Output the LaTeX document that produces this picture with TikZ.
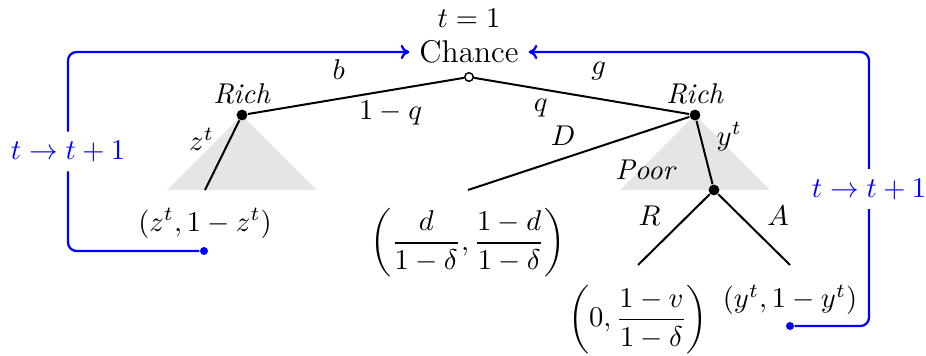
\documentclass[tikz,border=0pt]{standalone}
\usetikzlibrary{positioning,arrows.meta}
\tikzset{
  edge/.style={line width=0.7pt},
  decnode/.style={circle, fill=black, inner sep=0pt, minimum size=3.8pt},
  chancenode/.style={circle, draw, fill=white, inner sep=0pt, minimum size=3pt, line width=0.5pt},
  loopdot/.style={circle, fill=blue, inner sep=0pt, minimum size=2.8pt},
  loopline/.style={blue, line width=0.8pt, rounded corners=3pt, -{To[length=3pt,width=5pt]}},
  looplabel/.style={fill=white, text=blue},
}
\begin{document}
\begin{tikzpicture}[x=0.35pt, y=-0.35pt]
    \useasboundingbox (0,0) rectangle (926,355);
    % Bereiche der Zustaende
    \fill[gray!20] (242,115) -- ++(-75,75) -- ++(150,0) -- cycle;
    \fill[gray!20] (695,115) -- ++(-75,75) -- ++(150,0) -- cycle;
    % Knoten
    \node (chance) at (469,52) {\fontsize{11pt}{13pt}\selectfont Chance};
    \node (time) at (469,18) {$t=1$};
    \node[chancenode] (root) at (469,77) {};
    \node[decnode, label={[label distance=-2pt]above:\textit{Rich}}] (richL) at (242,115) {};
    \node[decnode, label={[label distance=-2pt]above:\textit{Rich}}] (richR) at (695,115) {};
    \node[decnode] (poor) at (714,190) {};
    \node at (646,170) {\textit{Poor}};
    \coordinate (endL) at (205,190);
    \coordinate (endD) at (468,190);
    \coordinate (endR) at (638,265);
    \coordinate (endA) at (790,265);
    % Kanten
    \draw[edge] (root) -- (richL) node[pos=.58, above=3pt] {$b$} node[pos=.34, below] {$1-q$};
    \draw[edge] (root) -- (richR) node[pos=.58, above=3pt] {$g$} node[pos=.31, below] {$q$};
    \draw[edge] (richL) -- (endL) node[pos=.27, left=2pt] {$z^t$};
    \draw[edge] (richR) -- (endD) node[pos=.57, above=1pt] {$D$};
    \draw[edge] (richR) -- (poor) node[pos=.25, right=2pt] {$y^t$};
    \draw[edge] (poor) -- (endR) node[pos=.3, left=6pt] {$R$};
    \draw[edge] (poor) -- (endA) node[pos=.3, right=6pt] {$A$};
    % Auszahlungen
    \node[below=3pt of endL] (payL) {$(z^t,1-z^t)$};
    \node[below=3pt of endD] (payD) {$\displaystyle\left(\frac{d}{1-\delta},\frac{1-d}{1-\delta}\right)$};
    \node[below=3.5pt of endR] (payR) {$\displaystyle\left(0,\frac{1-v}{1-\delta}\right)$};
    \node[below=3.5pt of endA] (payA) {$(y^t,1-y^t)$};
    % Rueckkehr zur naechsten Periode
    \node[loopdot] (backL) at (204,251) {};
    \node[loopdot] (backR) at (790,326) {};
    \coordinate (turnL) at (68,52);
    \coordinate (turnR) at (869,52);
    \draw[loopline] (backL) -- (backL -| turnL) -- node[looplabel] {$t\to t+1$} (turnL) -- (chance.west);
    \draw[loopline] (backR) -- (backR -| turnR) -- node[looplabel] {$t\to t+1$} (turnR) -- (chance.east);
\end{tikzpicture}
\end{document}
